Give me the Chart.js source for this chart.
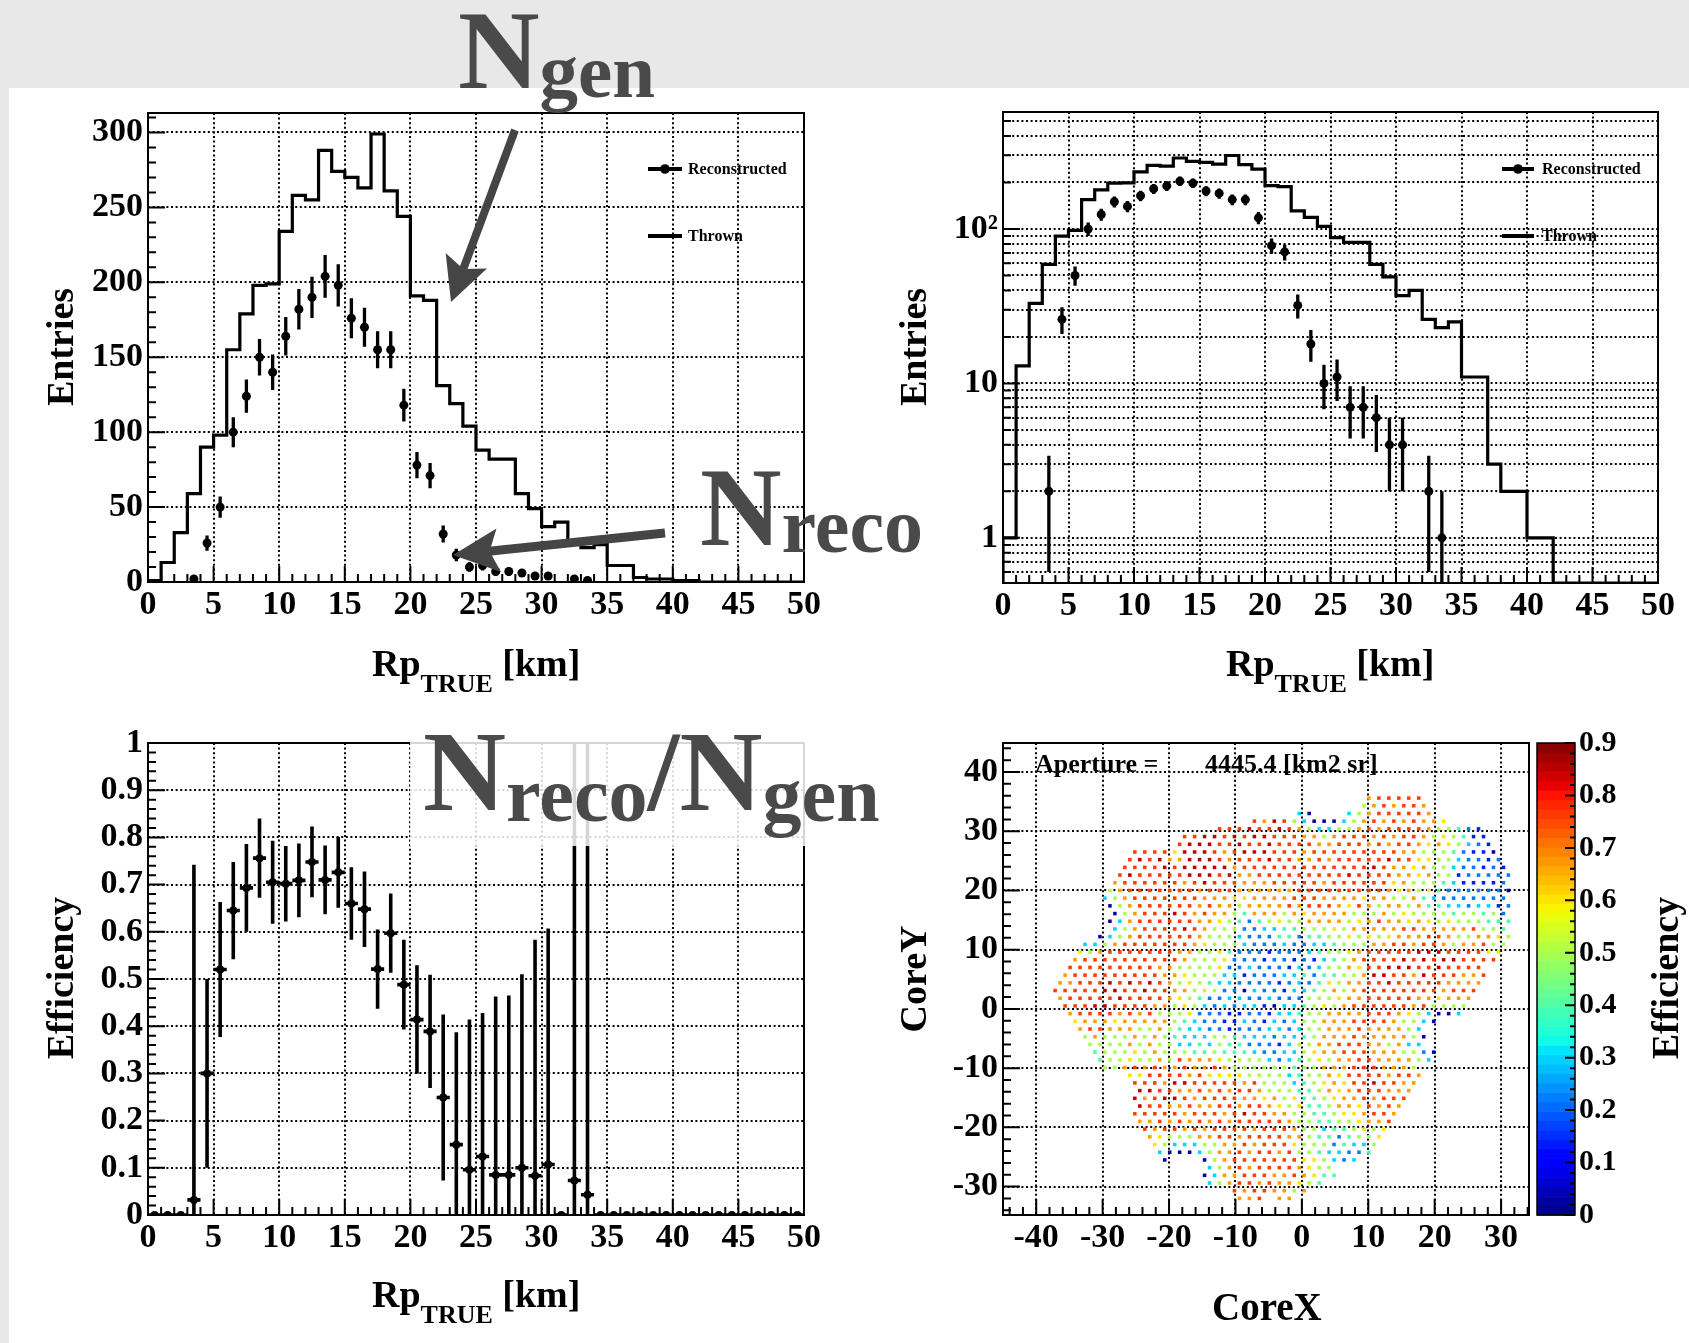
<!DOCTYPE html>
<html>
<head>
<meta charset="utf-8">
<title>Rp efficiency and aperture</title>
<script src="https://cdn.jsdelivr.net/npm/chart.js@4.4.1/dist/chart.umd.min.js"></script>
<style>
  html, body { margin: 0; padding: 0; }
  body { width: 1689px; height: 1343px; position: relative; overflow: hidden; background: #fff; }
  .band { position: absolute; background: #e8e8e8; }
  .panel { position: absolute; }
  #overlay { position: absolute; left: 0; top: 0; }
  #overlay text { white-space: pre; }
</style>
</head>
<body>
<div class="band" style="left:0;top:0;width:1689px;height:88px"></div>
<div class="band" style="left:0;top:0;width:9px;height:1343px"></div>
<canvas id="rpLin" class="panel" style="left:9px;top:88px" width="840" height="570"></canvas>
<canvas id="rpLog" class="panel" style="left:860px;top:88px" width="829" height="570"></canvas>
<canvas id="rpEff" class="panel" style="left:9px;top:700px" width="840" height="600"></canvas>
<canvas id="coreMap" class="panel" style="left:860px;top:700px" width="829" height="600"></canvas>
<svg id="overlay" width="1689" height="1343" font-family="'Liberation Serif', 'Times New Roman', serif"></svg>

<script>
// ---- Rp distributions, 1 km bins from 0 to 50 km ----
const rpTicks = [0, 5, 10, 15, 20, 25, 30, 35, 40, 45, 50];
const entryTicks = [0, 50, 100, 150, 200, 250, 300];
const logTicks = [1, 10, 100];
const effTicks = [0, 0.1, 0.2, 0.3, 0.4, 0.5, 0.6, 0.7, 0.8, 0.9, 1];

const thrown = [1, 13, 33, 59, 90, 98, 155, 179, 198, 199, 234, 258, 255, 288, 274, 270, 263, 299, 261, 244,
                191, 188, 131, 119, 104, 88, 82, 82, 59, 49, 37, 40, 26, 23, 25, 11, 11, 3, 2, 2,
                1, 1, 0, 0, 0, 0, 0, 0, 0, 0];
const reco = [0, 0, 0, 2, 26, 50, 100, 124, 150, 140, 164, 182, 190, 204, 198, 176, 170, 155, 155, 118,
              78, 71, 32, 18, 10, 11, 7, 7, 6, 4, 4, 0, 2, 1, 0, 0, 0, 0, 0, 0,
              0, 0, 0, 0, 0, 0, 0, 0, 0, 0];
const recoErr = [0, 0, 0, 1.4, 5.1, 7.1, 10, 11.1, 12.2, 11.8, 12.8, 13.5, 13.8, 14.3, 14.1, 13.3, 13, 12.4, 12.4, 10.9,
                 8.8, 8.4, 5.7, 4.2, 3.2, 3.3, 2.6, 2.6, 2.4, 2, 2, 0, 1.4, 1, 0, 0, 0, 0, 0, 0,
                 0, 0, 0, 0, 0, 0, 0, 0, 0, 0];
const effVal = [0, 0, 0, 0.032, 0.30, 0.52, 0.645, 0.693, 0.756, 0.705, 0.702, 0.709, 0.748, 0.71, 0.726, 0.66, 0.648, 0.521, 0.597, 0.488,
                0.414, 0.389, 0.249, 0.149, 0.096, 0.124, 0.085, 0.085, 0.10, 0.083, 0.107, 0, 0.073, 0.043, 0, 0, 0, 0, 0, 0,
                0, 0, 0, 0, 0, 0, 0, 0, 0, 0];
const effErr = [0, 0, 0, 0.71, 0.20, 0.143, 0.103, 0.093, 0.084, 0.088, 0.08, 0.078, 0.075, 0.073, 0.075, 0.077, 0.08, 0.084, 0.084, 0.095,
                0.115, 0.12, 0.176, 0.238, 0.318, 0.304, 0.378, 0.38, 0.41, 0.50, 0.50, 0, 0.95, 0.97, 0, 0, 0, 0, 0, 0,
                0, 0, 0, 0, 0, 0, 0, 0, 0, 0];

// ---- core position map: hexagonal throw grid, one code per core, read row by row from the top ----
const coreXTicks = [-40, -30, -20, -10, 0, 10, 20, 30];
const coreYTicks = [-30, -20, -10, 0, 10, 20, 30, 40];
const cbTicks = [0, 0.1, 0.2, 0.3, 0.4, 0.5, 0.6, 0.7, 0.8, 0.9];
const coreX0 = -37.9, coreDX = 1.5, coreY0 = 35.6, coreDY = 1.3;
const coreLevel = { N: 0.03, B: 0.14, A: 0.22, C: 0.30, T: 0.40, G: 0.50, Y: 0.60, O: 0.67, R: 0.76, D: 0.85 };
const coreRowStart = [32, 31, 25, 20, 17, 13, 13, 8, 8, 7, 7, 6, 6, 5, 6, 6, 6, 6, 5, 3,
                      3, 2, 2, 1, 1, 0, 1, 1, 2, 2, 3, 3, 4, 4, 5, 5, 8, 8, 9, 8,
                      9, 8, 9, 9, 10, 10, 11, 11, 16, 15, 16, 18, 19];
const coreRowCodes = [
  'ORRRRR',
  'GORORRO',
  'CN...CGORRRRRO',
  'RODRGCNNNCGOROROROOY',
  'RRRDRRDROGCCGGORORRRROGGTAB',
  'RRDDRDRDDRRROOGORRRORORROGYGTBB',
  'RDDDRRDRRDRRRROORRRORORROYOYGCAB',
  'RRRRYDDDRORDDDRRRORRRRRRRRROOGGGTABBN',
  'RDRDOODDDRORRRDRROORORRRRRDRRYYGGCAABA',
  'RRRRDRDDDDDORRRRRRRRRRRRRDROOYOGGCAABAB',
  'RDRRRRRDDDRDOORRRRRRRRRDRRRROOYOGGBAAAAA',
  'ORRRRRRORDRRROOORRRRRORRRRRRYOGGGTCBBBBA',
  'GORRRRRRRORRROOOOOORRRRRRRRROYOGYTAAAAAAN',
  'CGORRRRRRROOOYYOOOORRROOOOYOOGGOTCAAAAAAA',
  'NGORRRRRROROOGOOOORORRROYROGOOGOTTCCACCBA',
  'NGORRRDROROOGTOOOGOYOOOOGGGOGYGGGGTGGTGA',
  'NCORRRRRROOYGTATGYGGOOOOGYOROOYOYGYGGGTTT',
  'CGORRRRDROGGGAACCTTGGGYGOOOOORROOOOORGGT',
  'NCGORRRRRROGGGCAAATTATTGGYGYGYOOORROGGOOYG',
  'CCGORRRRRRROYGGGCAAACAACCTGGGOORRORROGOORGG',
  'YGORRRRRRROOGGYTAAABAAACTGGYORRRRRDDDRRRRYY',
  'ORRRRRRRRRROGGGYAAABAABABCTGORRRRDRDRDDRRRR',
  'RRRRRRRRROOGGGGYAACAAABCACGGOYRRDDDRRDRRRR',
  'ORRRRRRRRROOYGGGCCBAAACCTATTGGODDRRODRRROOR',
  'OORRRDRDRDROGYGTCCAAAABACATYGOORRDRRRRROOOO',
  'RRRRRDDRRDRROOGYGAANCAABCCTGOGORRRRRRRRORRR',
  'ORRRRRDRRRROYGTAACCAACAAAGGGYOORRRRROOYOOO',
  'RRRDDRRRROOGYGCACACCBNCCTGYGORRRRRRORGGGG',
  'ORRRRORORGGGYAAABBAABCCTGGOOOORRROYGCNNC',
  'YOOOYOOOOOGTCAABBCABCACGGOOORRRROGGCN',
  'ORROOOGGOGTCCAABAAACCACGGOOOROOOOGC',
  'GOGGGOGOGTCCCGGTCCCACCTGOOOROOOOOGN',
  'GGGGOGOGGCCTCGTTAAABCGGOORRROOGOCC',
  'TGGGYGOGGGTTGTTTCAACCGYOORRROOOGGAN',
  'TGGYGGOGROOOYGGGGCACTGYGOORROOOOGC',
  'GGOROROOROOROGGGGGGTGGOOORRROOOG',
  'YYRRRRORYYYYGGGGCTGGOYRRRRORRO',
  'RRRODDRRRRRORGGGCTGYOYRRDRROO',
  'DDRROOROROR' + 'ROGGGTTGOYO' + 'RRROOO',
  'DORDDRORRRROOYOGYTTGYOORORRR',
  'DRROOROORRORROYGYTTGOOYRORO',
  'RRRRRORRRORDRROOGGTTGYYORRO',
  'OOROROROROR' + 'RRRRO' + 'GGTTGGYOOR',
  'RORRORORRRRORRROGGCTTGYGY',
  'OYGGGOORRORRRROOGTTATGGY',
  'YGCCCGGOORORRRYGGGATCCG',
  'CNNNCGOOROR' + 'RORGGTCCAAT',
  'N...NGORRRRRRRYYGCAC',
  'CGORORRRROYGG',
  'NCOORRROOROYTT',
  'CGORRORO' + 'OYGT',
  'RORROOGO',
  'OOR.OO'
];

const SERIF = "'Liberation Serif', 'Times New Roman', serif";
const tickFont = { family: SERIF, weight: 'bold', size: 34 };

function steps(from, to, step) {
  const out = [];
  for (let v = from; v <= to + 1e-9; v += step) out.push(Math.round(v * 1000) / 1000);
  return out;
}

// jet-like palette used by the efficiency map
function jet(t) {
  t = Math.min(1, Math.max(0, t));
  const seg = pts => {
    for (let i = 1; i < pts.length; i++) {
      if (t <= pts[i][0]) {
        const [t0, v0] = pts[i - 1], [t1, v1] = pts[i];
        return v0 + (v1 - v0) * (t - t0) / (t1 - t0);
      }
    }
    return pts[pts.length - 1][1];
  };
  const r = seg([[0, 0], [0.35, 0], [0.66, 1], [0.89, 1], [1, 0.5]]);
  const g = seg([[0, 0], [0.125, 0], [0.375, 1], [0.64, 1], [0.91, 0], [1, 0]]);
  const b = seg([[0, 0.5], [0.11, 1], [0.34, 1], [0.65, 0], [1, 0]]);
  return `rgb(${Math.round(r * 255)},${Math.round(g * 255)},${Math.round(b * 255)})`;
}

// ROOT-like frame: dotted grid, inward ticks, black box
function rootFrame(cfg) {
  return {
    id: 'rootFrame',
    beforeDatasetsDraw(chart) {
      const { ctx, chartArea: a, scales: { x, y } } = chart;
      ctx.save();
      ctx.strokeStyle = '#000';
      ctx.lineWidth = 2;
      ctx.setLineDash([2, 2.6]);
      ctx.beginPath();
      cfg.xGrid.forEach(v => { const p = Math.round(x.getPixelForValue(v)); ctx.moveTo(p, a.top); ctx.lineTo(p, a.bottom); });
      cfg.yGrid.forEach(v => { const p = Math.round(y.getPixelForValue(v)); ctx.moveTo(a.left, p); ctx.lineTo(a.right, p); });
      ctx.stroke();
      ctx.restore();
    },
    afterDatasetsDraw(chart) {
      const { ctx, chartArea: a, scales: { x, y } } = chart;
      ctx.save();
      ctx.strokeStyle = '#000';
      ctx.lineWidth = 2;
      ctx.beginPath();
      cfg.xMinor.forEach(v => { const p = x.getPixelForValue(v); ctx.moveTo(p, a.bottom); ctx.lineTo(p, a.bottom - 8); });
      cfg.xMajor.forEach(v => { const p = x.getPixelForValue(v); ctx.moveTo(p, a.bottom); ctx.lineTo(p, a.bottom - 16); });
      cfg.yMinor.forEach(v => { const p = y.getPixelForValue(v); ctx.moveTo(a.left, p); ctx.lineTo(a.left + 8, p); });
      cfg.yMajor.forEach(v => { const p = y.getPixelForValue(v); ctx.moveTo(a.left, p); ctx.lineTo(a.left + 17, p); });
      ctx.stroke();
      ctx.strokeRect(a.left, a.top, a.right - a.left, a.bottom - a.top);
      ctx.restore();
    }
  };
}

// vertical (and optional horizontal) error bars read from the raw points
function errorBars(dsIndex, width) {
  return {
    id: 'errorBars',
    afterDatasetsDraw(chart) {
      const { ctx, chartArea: a, scales: { x, y } } = chart;
      const raw = chart.data.datasets[dsIndex].data;
      const meta = chart.getDatasetMeta(dsIndex);
      ctx.save();
      ctx.beginPath();
      ctx.rect(a.left, a.top, a.right - a.left, a.bottom - a.top);
      ctx.clip();
      ctx.strokeStyle = '#000';
      ctx.lineWidth = width;
      ctx.beginPath();
      meta.data.forEach((pt, k) => {
        const d = raw[k];
        if (d.ey) {
          ctx.moveTo(pt.x, y.getPixelForValue(Math.max(d.y - d.ey, y.min)));
          ctx.lineTo(pt.x, y.getPixelForValue(d.y + d.ey));
        }
        if (d.ex) {
          ctx.moveTo(x.getPixelForValue(d.x - d.ex), pt.y);
          ctx.lineTo(x.getPixelForValue(d.x + d.ex), pt.y);
        }
      });
      ctx.stroke();
      ctx.restore();
    }
  };
}

function fixedAxis(size, vertical) {
  return s => {
    if (vertical) { s.width = size; s.paddingTop = 0; s.paddingBottom = 0; }
    else { s.height = size; s.paddingLeft = 0; s.paddingRight = 0; }
  };
}
function setTicks(list) {
  return s => { s.ticks = list.map(v => ({ value: v })); };
}
const noGrid = { display: false, drawTicks: false };

function histStep(values, floor) {
  const pts = [{ x: 0, y: floor }];
  values.forEach((v, k) => pts.push({ x: k, y: v > 0 ? v : floor }));
  pts.push({ x: values.length, y: values[values.length - 1] > 0 ? values[values.length - 1] : floor });
  return pts;
}
function recoPoints() {
  const pts = [];
  reco.forEach((v, k) => { if (v > 0) pts.push({ x: k + 0.5, y: v, ey: recoErr[k] }); });
  return pts;
}

const common = {
  animation: false,
  responsive: false,
  events: [],
  plugins: { legend: { display: false }, tooltip: { enabled: false } }
};

function rpChart(id, logY, yWidth, pad) {
  const yScale = logY
    ? { type: 'logarithmic', min: 0.51, max: 572, afterBuildTicks: setTicks(logTicks) }
    : { type: 'linear', min: 0, max: 313, afterBuildTicks: setTicks(entryTicks) };
  Object.assign(yScale, {
    afterFit: fixedAxis(yWidth, true),
    grid: noGrid, border: { display: false },
    ticks: { font: tickFont, color: '#000', padding: 5, callback: v => (v === 100 && logY ? '10\u00B2' : String(v)) }
  });
  const logMinor = [];
  [0.1, 1, 10, 100].forEach(d => [2, 3, 4, 5, 6, 7, 8, 9].forEach(m => logMinor.push(d * m)));
  const yMinorList = logY ? logMinor.filter(v => v > 0.51 && v < 572) : steps(0, 310, 10);
  return new Chart(document.getElementById(id), {
    type: 'line',
    data: {
      datasets: [
        { label: 'Thrown', data: histStep(thrown, logY ? 0.51 : 0), stepped: true, borderColor: '#000', borderWidth: 3.2, pointRadius: 0, fill: false },
        { label: 'Reconstructed', type: 'scatter', data: recoPoints(), pointRadius: 4.5, pointBackgroundColor: '#000', pointBorderWidth: 0 }
      ]
    },
    options: Object.assign({}, common, {
      layout: { padding: pad },
      scales: {
        x: {
          type: 'linear', min: 0, max: 50, afterBuildTicks: setTicks(rpTicks), afterFit: fixedAxis(50, false),
          grid: noGrid, border: { display: false },
          ticks: { font: tickFont, color: '#000', padding: 3, maxRotation: 0, autoSkip: false }
        },
        y: yScale
      }
    }),
    plugins: [
      rootFrame({
        xGrid: rpTicks.slice(1, -1), yGrid: logY ? logMinor.concat(logTicks).filter(v => v > 0.51 && v < 572) : entryTicks.slice(1),
        xMinor: steps(0, 50, 1), xMajor: rpTicks, yMinor: yMinorList, yMajor: logY ? logTicks : entryTicks
      }),
      errorBars(1, 3.3)
    ]
  });
}

rpChart('rpLin', false, 139, { left: 0, top: 25, right: 45, bottom: 26 });
rpChart('rpLog', true, 143, { left: 0, top: 24, right: 31, bottom: 25 });

// efficiency
new Chart(document.getElementById('rpEff'), {
  type: 'scatter',
  data: {
    datasets: [{
      label: 'Efficiency',
      data: effVal.map((v, k) => ({ x: k + 0.5, y: v, ey: effErr[k], ex: 0.5 })),
      pointRadius: 4, pointBackgroundColor: '#000', pointBorderWidth: 0
    }]
  },
  options: Object.assign({}, common, {
    layout: { padding: { left: 0, top: 43, right: 45, bottom: 35 } },
    scales: {
      x: {
        type: 'linear', min: 0, max: 50, afterBuildTicks: setTicks(rpTicks), afterFit: fixedAxis(50, false),
        grid: noGrid, border: { display: false },
        ticks: { font: tickFont, color: '#000', padding: 3, maxRotation: 0, autoSkip: false }
      },
      y: {
        type: 'linear', min: 0, max: 1, afterBuildTicks: setTicks(effTicks), afterFit: fixedAxis(139, true),
        grid: noGrid, border: { display: false },
        ticks: { font: tickFont, color: '#000', padding: 5, callback: v => String(v) }
      }
    }
  }),
  plugins: [
    rootFrame({ xGrid: rpTicks.slice(1, -1), yGrid: effTicks.slice(1, -1), xMinor: steps(0, 50, 1), xMajor: rpTicks, yMinor: steps(0, 1, 0.02), yMajor: effTicks }),
    errorBars(0, 3.6)
  ]
});

// core map with colour bar
const corePoints = [];
coreRowCodes.forEach((codes, j) => {
  [...codes].forEach((c, k) => {
    if (c === '.') return;
    corePoints.push({
      x: coreX0 + coreDX * (coreRowStart[j] + k) + (j % 2 ? coreDX / 2 : 0),
      y: coreY0 - coreDY * j,
      v: coreLevel[c]
    });
  });
});

const colorBar = {
  id: 'colorBar',
  afterDraw(chart) {
    const { ctx } = chart;
    const s = chart.scales.y2;
    const x0 = 1537 - 860, x1 = 1575 - 860;
    ctx.save();
    for (let k = 0; k < 50; k++) {
      const v0 = k * 0.018, v1 = (k + 1) * 0.018;
      const p0 = s.getPixelForValue(v0), p1 = s.getPixelForValue(v1);
      ctx.fillStyle = jet((v0 + 0.009) / 0.9);
      ctx.fillRect(x0, p1, x1 - x0, p0 - p1 + 0.6);
    }
    ctx.strokeStyle = '#000';
    ctx.lineWidth = 1.5;
    ctx.strokeRect(x0, s.top, x1 - x0, s.bottom - s.top);
    ctx.lineWidth = 2;
    ctx.beginPath();
    cbTicks.forEach(v => { const p = s.getPixelForValue(v); ctx.moveTo(x1, p); ctx.lineTo(x1 - 10, p); });
    steps(0, 0.9, 0.02).forEach(v => { const p = s.getPixelForValue(v); ctx.moveTo(x1, p); ctx.lineTo(x1 - 5, p); });
    ctx.stroke();
    ctx.restore();
  }
};

new Chart(document.getElementById('coreMap'), {
  type: 'scatter',
  data: {
    datasets: [{
      label: 'Efficiency',
      data: corePoints,
      pointStyle: 'rect', pointRadius: 2.5, pointBorderWidth: 0,
      pointBackgroundColor: c => jet(c.raw.v / 0.9)
    }]
  },
  options: Object.assign({}, common, {
    layout: { padding: { left: 0, top: 43, right: 10, bottom: 35 } },
    scales: {
      x: {
        type: 'linear', min: -45, max: 34.2, afterBuildTicks: setTicks(coreXTicks), afterFit: fixedAxis(50, false),
        grid: noGrid, border: { display: false },
        ticks: { font: tickFont, color: '#000', padding: 3, maxRotation: 0, autoSkip: false }
      },
      y: {
        type: 'linear', min: -34.8, max: 44.9, afterBuildTicks: setTicks(coreYTicks), afterFit: fixedAxis(143, true),
        grid: noGrid, border: { display: false },
        ticks: { font: tickFont, color: '#000', padding: 5 }
      },
      y2: {
        type: 'linear', position: 'right', min: 0, max: 0.9, afterBuildTicks: setTicks(cbTicks), afterFit: fixedAxis(150, true),
        grid: noGrid, border: { display: false },
        ticks: { font: { family: SERIF, weight: 'bold', size: 30 }, color: '#000', padding: 50, callback: v => String(v) }
      }
    }
  }),
  plugins: [
    rootFrame({ xGrid: coreXTicks, yGrid: coreYTicks, xMinor: steps(-44, 34, 2), xMajor: coreXTicks, yMinor: steps(-34, 44, 2), yMajor: coreYTicks }),
    colorBar
  ]
});

// ---- overlay: titles, legends, annotations ----
const NS = 'http://www.w3.org/2000/svg';
const svg = document.getElementById('overlay');
function add(tag, attrs, html) {
  const el = document.createElementNS(NS, tag);
  Object.entries(attrs).forEach(([k, v]) => el.setAttribute(k, v));
  if (html !== undefined) el.innerHTML = html;
  svg.appendChild(el);
  return el;
}

// translucent box behind the ratio label
add('rect', { x: 410, y: 730, width: 395, height: 116, fill: '#fff', 'fill-opacity': 0.84 });

const bold = { 'font-weight': 'bold', fill: '#000' };
function rpTitle(x, y) {
  add('text', Object.assign({ x, y, 'font-size': 38 }, bold),
    'Rp<tspan font-size="26" dy="16">TRUE</tspan><tspan font-size="38" dy="-16"> [km]</tspan>');
}
rpTitle(372, 676);
rpTitle(1226, 676);
rpTitle(372, 1307);
add('text', Object.assign({ x: 1212, y: 1320, 'font-size': 39 }, bold), 'CoreX');
function vTitle(x, y, txt) {
  add('text', Object.assign({ x, y, 'font-size': 38, 'text-anchor': 'middle', transform: `rotate(-90 ${x} ${y})` }, bold), txt);
}
vTitle(73, 347, 'Entries');
vTitle(926, 347, 'Entries');
vTitle(73, 978, 'Efficiency');
vTitle(926, 979, 'CoreY');
vTitle(1678, 978, 'Efficiency');

add('text', Object.assign({ x: 1035, y: 772, 'font-size': 26 }, bold), 'Aperture =');
add('text', Object.assign({ x: 1205, y: 772, 'font-size': 26 }, bold), '4445.4 [km2 sr]');

function legend(x0, x1, xt) {
  add('line', { x1: x0, y1: 169, x2: x1, y2: 169, stroke: '#000', 'stroke-width': 4 });
  add('circle', { cx: (x0 + x1) / 2, cy: 169, r: 4.8, fill: '#000' });
  add('text', Object.assign({ x: xt, y: 174, 'font-size': 16 }, bold), 'Reconstructed');
  add('line', { x1: x0, y1: 236, x2: x1, y2: 236, stroke: '#000', 'stroke-width': 4 });
  add('text', Object.assign({ x: xt, y: 241, 'font-size': 16 }, bold), 'Thrown');
}
legend(648, 682, 688);
legend(1502, 1534, 1542);

// arrows
function arrow(tx, ty, hx, hy, w, headLen, headHalf) {
  const dx = hx - tx, dy = hy - ty, L = Math.hypot(dx, dy);
  const ux = dx / L, uy = dy / L, nx = -uy, ny = ux;
  const bx = hx - ux * headLen, by = hy - uy * headLen;
  const nxp = hx - ux * headLen * 0.8, nyp = hy - uy * headLen * 0.8;
  add('line', { x1: tx, y1: ty, x2: nxp, y2: nyp, stroke: '#454545', 'stroke-width': w });
  add('polygon', {
    points: [[hx, hy], [bx + nx * headHalf, by + ny * headHalf], [nxp, nyp], [bx - nx * headHalf, by - ny * headHalf]]
      .map(p => p.map(v => v.toFixed(1)).join(',')).join(' '),
    fill: '#454545'
  });
}
arrow(515, 130, 451, 302, 8, 44, 22);
arrow(665, 533, 453, 555, 9, 46, 22);

// big annotation labels
const big = { fill: '#4a4a4a', 'font-weight': 'bold' };
add('text', Object.assign({ x: 458, y: 88, 'font-size': 113 }, big), 'N<tspan font-size="77" dy="9">gen</tspan>');
add('text', Object.assign({ x: 700, y: 545, 'font-size': 113 }, big), 'N<tspan font-size="78" dy="7">reco</tspan>');
add('text', Object.assign({ x: 423, y: 810, 'font-size': 115 }, big),
  'N<tspan font-size="78" dy="11">reco</tspan><tspan font-size="115" dy="-11">/N</tspan><tspan font-size="78" dy="11">gen</tspan>');
</script>
</body>
</html>
